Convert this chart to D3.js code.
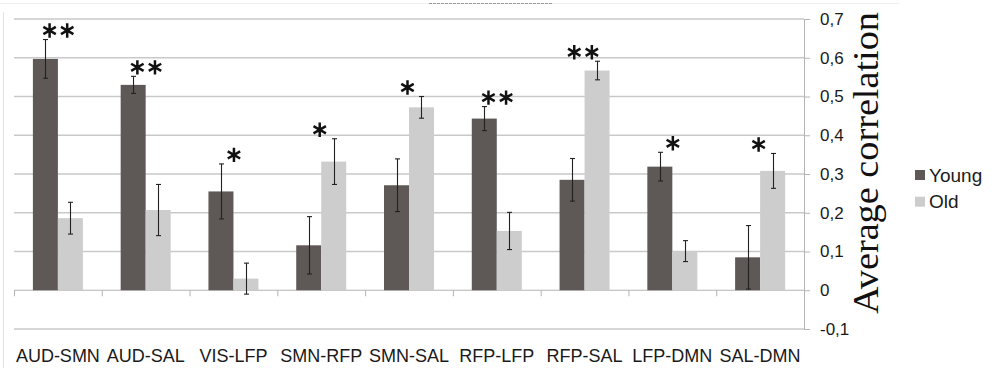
<!DOCTYPE html>
<html>
<head>
<meta charset="utf-8">
<script src="https://cdn.jsdelivr.net/npm/d3@7"></script>
<style>
  body { margin: 0; background: #fff; }
  svg { display: block; }
</style>
</head>
<body>
<script>
//chart data
var categories = ["AUD-SMN", "AUD-SAL", "VIS-LFP", "SMN-RFP", "SMN-SAL", "RFP-LFP", "RFP-SAL", "LFP-DMN", "SAL-DMN"];
var groups = ["Young", "Old"];
var youngValues = [0.597, 0.530, 0.255, 0.116, 0.271, 0.443, 0.285, 0.319, 0.085];
var youngErrors = [0.050, 0.022, 0.071, 0.074, 0.068, 0.031, 0.055, 0.037, 0.082];
var oldValues = [0.186, 0.207, 0.030, 0.332, 0.472, 0.153, 0.567, 0.101, 0.308];
var oldErrors = [0.041, 0.066, 0.040, 0.059, 0.028, 0.048, 0.024, 0.027, 0.045];
//significance marks: number of stars and which bar they sit over
var starCounts = [2, 2, 1, 1, 1, 2, 2, 1, 1];
var starGroup = ["Young", "Young", "Young", "Old", "Old", "Young", "Old", "Young", "Old"];
var yTicks = [-0.1, 0, 0.1, 0.2, 0.3, 0.4, 0.5, 0.6, 0.7];

var colors = { Young: "#5e5956", Old: "#cdcdcd" };

window.onload = drawChart();

function drawChart(){

    var width = 996,
        height = 368;

    var svg = d3.select("body")
        .append("svg")
        .attr("width", width)
        .attr("height", height);

    //faint frame left over from the original crop
    svg.append("line")
        .attr("x1", 3.5).attr("x2", 3.5)
        .attr("y1", 12).attr("y2", height)
        .attr("stroke", "#e2e2e2");
    svg.append("line")
        .attr("x1", 0).attr("x2", 900)
        .attr("y1", 3.5).attr("y2", 3.5)
        .attr("stroke", "#f0f0f0");
    svg.append("line")
        .attr("x1", 429).attr("x2", 552)
        .attr("y1", 3.5).attr("y2", 3.5)
        .attr("stroke", "#9a9a9a")
        .attr("stroke-dasharray", "3,1");

    var y = d3.scaleLinear()
        .domain([-0.1, 0.7])
        .range([329, 19]);

    var x = d3.scaleBand()
        .domain(categories)
        .range([14, 804]);

    var xSub = d3.scaleBand()
        .domain(groups)
        .range([0, x.bandwidth()])
        .paddingOuter(0.756);

    //gridlines
    svg.append("g")
        .selectAll("line")
        .data(yTicks.filter(function(d){ return d !== 0; }))
        .enter()
        .append("line")
        .attr("x1", 14).attr("x2", 804)
        .attr("y1", function(d){ return y(d); })
        .attr("y2", function(d){ return y(d); })
        .attr("stroke", "#c9c9c9")
        .attr("stroke-width", 1.6);

    //right y axis
    var yAxis = d3.axisRight(y)
        .tickValues(yTicks)
        .tickSize(6)
        .tickPadding(10)
        .tickFormat(function(d){ return d === 0 ? "0" : d.toFixed(1).replace(".", ","); });

    var yg = svg.append("g")
        .attr("transform", "translate(804,0)")
        .call(yAxis);
    yg.select(".domain").attr("stroke", "#b4b4b4").attr("d", "M0.5," + y(0.7) + "V" + y(-0.1));
    yg.selectAll(".tick line").attr("stroke", "#b4b4b4");
    yg.selectAll(".tick text")
        .attr("fill", "#1a1a1a")
        .style("font-family", "'Liberation Sans', Arial, sans-serif")
        .style("font-size", "17px");

    //zero line with category ticks
    svg.append("line")
        .attr("x1", 14).attr("x2", 804)
        .attr("y1", y(0)).attr("y2", y(0))
        .attr("stroke", "#b4b4b4")
        .attr("stroke-width", 1.2);
    svg.append("g")
        .selectAll("line")
        .data(categories)
        .enter()
        .append("line")
        .attr("x1", function(d){ return x(d) + 0.5; })
        .attr("x2", function(d){ return x(d) + 0.5; })
        .attr("y1", y(0)).attr("y2", y(0) + 6)
        .attr("stroke", "#b4b4b4");

    //bars
    var rows = [];
    categories.forEach(function(c, i){
        rows.push({ cat: c, group: "Young", value: youngValues[i], err: youngErrors[i] });
        rows.push({ cat: c, group: "Old", value: oldValues[i], err: oldErrors[i] });
    });

    svg.append("g")
        .selectAll("rect")
        .data(rows)
        .enter()
        .append("rect")
        .attr("x", function(d){ return x(d.cat) + xSub(d.group); })
        .attr("width", xSub.bandwidth())
        .attr("y", function(d){ return y(Math.max(0, d.value)); })
        .attr("height", function(d){ return Math.abs(y(d.value) - y(0)); })
        .attr("fill", function(d){ return colors[d.group]; });

    //error bars
    var eb = svg.append("g")
        .selectAll("g")
        .data(rows)
        .enter()
        .append("g")
        .attr("transform", function(d){
            return "translate(" + (Math.round(x(d.cat) + xSub(d.group) + xSub.bandwidth() / 2) + 0.5) + ",0)";
        })
        .attr("stroke", "#222")
        .attr("stroke-width", 1.1);
    eb.append("line")
        .attr("y1", function(d){ return y(d.value + d.err); })
        .attr("y2", function(d){ return y(d.value - d.err); });
    eb.append("line")
        .attr("x1", -2.5).attr("x2", 2.5)
        .attr("y1", function(d){ return y(d.value + d.err); })
        .attr("y2", function(d){ return y(d.value + d.err); });
    eb.append("line")
        .attr("x1", -2.5).attr("x2", 2.5)
        .attr("y1", function(d){ return y(d.value - d.err); })
        .attr("y2", function(d){ return y(d.value - d.err); });

    //significance stars
    var star = d3.symbol().type(d3.symbolAsterisk).size(145);
    categories.forEach(function(c, i){
        var isYoung = starGroup[i] === "Young";
        var v = isYoung ? youngValues[i] + youngErrors[i] : oldValues[i] + oldErrors[i];
        var cx = x(c) + xSub(starGroup[i]) + xSub.bandwidth() / 2 + (isYoung ? 13 : -14);
        var cy = y(v) - 9;
        d3.range(starCounts[i]).forEach(function(k){
            var sx = cx + (k - (starCounts[i] - 1) / 2) * 17.6;
            svg.append("path")
                .attr("d", star)
                .attr("transform", "translate(" + sx + "," + cy + ")")
                .attr("stroke", "#111")
                .attr("stroke-width", 2.5)
                .attr("fill", "none");
        });
    });

    //x labels
    svg.append("g")
        .selectAll("text")
        .data(categories)
        .enter()
        .append("text")
        .attr("x", function(d){ return x(d) + x.bandwidth() / 2; })
        .attr("y", 361.5)
        .attr("text-anchor", "middle")
        .attr("fill", "#1a1a1a")
        .style("font-family", "'Liberation Sans', Arial, sans-serif")
        .style("font-size", "18px")
        .text(function(d){ return d; });

    //axis title
    svg.append("text")
        .attr("transform", "translate(878,163) rotate(-90)")
        .attr("text-anchor", "middle")
        .attr("fill", "#111")
        .style("font-family", "'Liberation Serif', 'Times New Roman', serif")
        .style("font-size", "36px")
        .attr("textLength", 302)
        .attr("lengthAdjust", "spacingAndGlyphs")
        .text("Average correlation");

    //legend
    var legend = svg.append("g")
        .selectAll("g")
        .data(groups)
        .enter()
        .append("g")
        .attr("transform", function(d, i){ return "translate(915," + (170 + i * 26.7) + ")"; });
    legend.append("rect")
        .attr("width", 10).attr("height", 10)
        .attr("fill", function(d){ return colors[d]; });
    legend.append("text")
        .attr("x", 14)
        .attr("y", 11.5)
        .attr("fill", "#1a1a1a")
        .style("font-family", "'Liberation Sans', Arial, sans-serif")
        .style("font-size", "19px")
        .text(function(d){ return d; });
};
</script>
</body>
</html>
